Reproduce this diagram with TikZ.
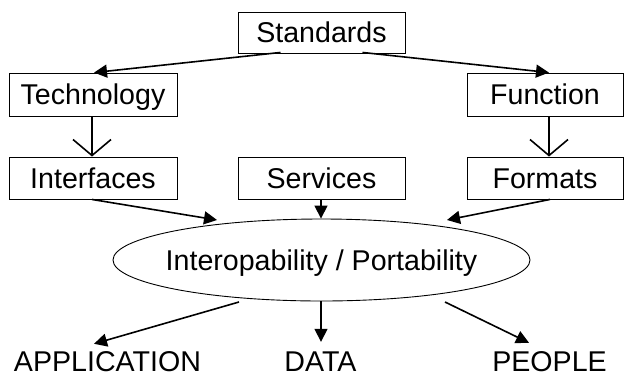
\documentclass[tikz,border=0pt]{standalone}
\usepackage{fontspec}
\setmainfont{Liberation Sans}
\usetikzlibrary{arrows.meta,shapes.geometric,calc}
\tikzset{
  box/.style={draw, line width=0.9pt, inner sep=0pt, text height=20.5pt, text depth=0pt, font=\fontsize{28.6}{30}\selectfont},
  lbl/.style={inner sep=0pt, text height=20.5pt, text depth=0pt, font=\fontsize{28.6}{30}\selectfont},
  arr/.style={line width=1.6pt, -{Triangle[length=13pt,width=13pt]}},
  varr/.style={line width=1.6pt, -{Straight Barb[length=16pt,width=38pt]}}
}
\begin{document}
\begin{tikzpicture}[x=1pt,y=-1pt]
\useasboundingbox (0,0) rectangle (624,376);
\node[box, minimum width=167pt, minimum height=41pt] (std) at (321.5,32.5) {Standards};
\node[box, minimum width=168pt, minimum height=43pt] (tech) at (93,94.5) {Technology};
\node[box, minimum width=156pt, minimum height=43pt] (fun) at (545,94.5) {Function};
\node[box, minimum width=168pt, minimum height=42pt] (intf) at (93,178) {Interfaces};
\node[box, minimum width=167pt, minimum height=42pt] (srv) at (321.5,178) {Services};
\node[box, minimum width=156pt, minimum height=42pt] (fmt) at (545,178) {Formats};
\node[draw, ellipse, line width=0.9pt, minimum width=417pt, minimum height=82pt, inner sep=0pt] (ell) at (321.5,260) {};
\node[lbl] (elltxt) at (ell.center) {Interopability / Portability};
\node[lbl, anchor=base] (app) at (107.5,371.5) {APPLICATION};
\node[lbl, anchor=base] (data) at (320.5,371.5) {DATA};
\node[lbl, anchor=base] (ppl) at (549.5,371.5) {PEOPLE};
% connectors
\draw[arr] ($(std.south)+(-41,-1)$) -- ($(tech.north)+(1,0)$);
\draw[arr] ($(std.south)+(41,-1)$) -- ($(fun.north)+(4,0)$);
\draw[varr] ($(tech.south)+(-1,0)$) -- ($(intf.north)+(-1,0)$);
\draw[varr] ($(fun.south)+(4,0)$) -- ($(fmt.north)+(4,0)$);
\draw[arr] ($(intf.south)+(-1,0)$) -- ($(ell.center)+(-104.5,-40)$);
\draw[arr] ($(srv.south)+(-0.5,0)$) -- ($(ell.north)+(-0.5,0)$);
\draw[arr] ($(fmt.south)+(5,0)$) -- ($(ell.center)+(125.5,-40)$);
\draw[arr] ($(ell.center)+(-82.5,42)$) -- ($(app.north)+(-13.5,-7)$);
\draw[arr] ($(ell.south)+(-0.5,0)$) -- ($(data.north)+(0.5,-9)$);
\draw[arr] ($(ell.center)+(123.5,42)$) -- ($(ppl.north)+(-20.5,-8)$);
\end{tikzpicture}
\end{document}
